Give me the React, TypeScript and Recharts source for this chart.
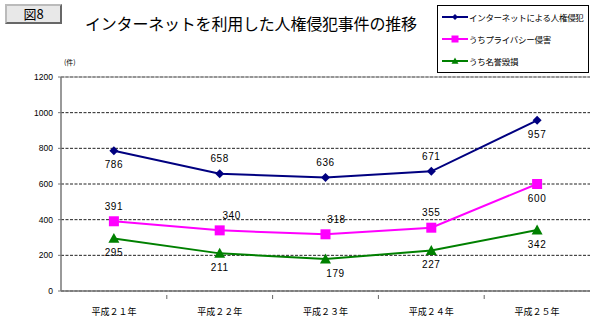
import React from 'react';
import {
  ComposedChart,
  Line,
  XAxis,
  YAxis,
  CartesianGrid,
  LabelList,
  ReferenceLine,
  Legend,
} from 'recharts';

const years = ['平成２１年', '平成２２年', '平成２３年', '平成２４年', '平成２５年'];
const netCases = [786, 658, 636, 671, 957];
const privacyCases = [391, 340, 318, 355, 600];
const defamationCases = [295, 211, 179, 227, 342];
const yTicks = [0, 200, 400, 600, 800, 1000, 1200];

const seriesNames = ['インターネットによる人権侵犯', 'うちプライバシー侵害', 'うち名誉毀損'];

// where each data label sits relative to its point
const labelSide: Record<string, string[]> = {
  net: ['below', 'above', 'above', 'above', 'below'],
  privacy: ['above', 'above', 'above', 'above', 'below'],
  defamation: ['below', 'below', 'below', 'below', 'below'],
};
const labelShift: Record<string, number[]> = {
  net: [0, 0, 0, 0, 0],
  privacy: [0, 12, 11, 0, 0],
  defamation: [0, 0, 10, 0, 0],
};

const data = years.map((year, i) => ({
  year,
  net: netCases[i],
  privacy: privacyCases[i],
  defamation: defamationCases[i],
}));

const W = 600;
const H = 329;
const margin = { top: 77, right: 10, bottom: 8, left: 21 };
const yAxisWidth = 40;
const bandWidth = (W - margin.left - margin.right - yAxisWidth) / years.length;

const NAVY = '#000080';
const PINK = '#ff00ff';
const GREEN = '#008000';

const numFont = '"Liberation Sans", Arial, sans-serif';
const jpFont = '"Noto Sans CJK JP", sans-serif';

const Diamond = ({ cx, cy, color, size = 4.5 }: any) =>
  cx == null ? null : (
    <polygon
      points={`${cx},${cy - size} ${cx + size},${cy} ${cx},${cy + size} ${cx - size},${cy}`}
      fill={color}
    />
  );

const Square = ({ cx, cy, color, size = 5 }: any) =>
  cx == null ? null : <rect x={cx - size} y={cy - size} width={size * 2} height={size * 2} fill={color} />;

const Triangle = ({ cx, cy, color, size = 5.5 }: any) =>
  cx == null ? null : (
    <polygon
      points={`${cx},${cy - size} ${cx + size},${cy + size * 0.8} ${cx - size},${cy + size * 0.8}`}
      fill={color}
    />
  );

const makeLabel = (key: string) => (props: any) => {
  const { x, y, value, index } = props;
  const side = labelSide[key][index];
  const dx = labelShift[key][index] || 0;
  return (
    <text
      x={x + dx}
      y={side === 'above' ? y - 15 : y + 14}
      textAnchor="middle"
      dominantBaseline="central"
      fontSize={10}
      fontFamily={numFont}
      letterSpacing={0.6}
      fill="#000"
    >
      {value}
    </text>
  );
};

const XTick = ({ x, y, payload, index }: any) => (
  <g>
    {index > 0 && (
      <line x1={x - bandWidth / 2} x2={x - bandWidth / 2} y1={y - 4} y2={y} stroke="#666" />
    )}
    <text x={x} y={y + 12} textAnchor="middle" dominantBaseline="central" fontSize={9} fontFamily={jpFont} fill="#000">
      {payload.value}
    </text>
  </g>
);

const legendRows = [
  { name: seriesNames[0], color: NAVY, Mark: Diamond, size: 3 },
  { name: seriesNames[1], color: PINK, Mark: Square, size: 3.5 },
  { name: seriesNames[2], color: GREEN, Mark: Triangle, size: 3.5 },
];

const LegendBox = () => (
  <div
    style={{
      width: 152,
      height: 68,
      border: '1px solid #000',
      background: '#fff',
      boxSizing: 'border-box',
    }}
  >
    {legendRows.map((row) => (
      <div key={row.name} style={{ display: 'flex', alignItems: 'center', height: 22 }}>
        <svg width={28} height={12} style={{ marginLeft: 3, flexShrink: 0 }}>
          <line x1={1} x2={27} y1={6} y2={6} stroke={row.color} strokeWidth={2} />
          <row.Mark cx={14} cy={6} color={row.color} size={row.size} />
        </svg>
        <span
          style={{
            fontSize: 8.5,
            letterSpacing: -0.3,
            fontFamily: jpFont,
            color: '#000',
            whiteSpace: 'nowrap',
          }}
        >
          {row.name}
        </span>
      </div>
    ))}
  </div>
);

export default function App() {
  return (
    <div style={{ position: 'absolute', left: 0, top: 0, width: W, height: H, background: '#fff' }}>
      <div
        style={{
          position: 'absolute',
          left: 5,
          top: 4,
          width: 57,
          height: 20,
          boxSizing: 'border-box',
          border: '2px outset #bbb',
          background: '#e8e8e8',
          fontFamily: jpFont,
          fontSize: 13,
          lineHeight: '16px',
          textAlign: 'center',
          color: '#000',
        }}
      >
        図8
      </div>
      <div
        style={{
          position: 'absolute',
          left: 85,
          top: 13,
          fontFamily: jpFont,
          fontSize: 16,
          lineHeight: '20px',
          letterSpacing: -0.2,
          color: '#000',
          whiteSpace: 'nowrap',
        }}
      >
        インターネットを利用した人権侵犯事件の推移
      </div>
      <div
        style={{
          position: 'absolute',
          left: 64,
          top: 57,
          fontFamily: jpFont,
          fontSize: 7,
          color: '#000',
        }}
      >
        (件)
      </div>
      <ComposedChart width={W} height={H} data={data} margin={margin}>
        <CartesianGrid vertical={false} stroke="#222" strokeDasharray="3 1.5" />
        <XAxis
          dataKey="year"
          scale="band"
          tick={<XTick />}
          tickLine={false}
          axisLine={{ stroke: '#777', strokeWidth: 1.5 }}
          height={30}
          interval={0}
        />
        <YAxis
          domain={[0, 1200]}
          ticks={yTicks}
          width={yAxisWidth}
          tick={{ fontSize: 8.5, fontFamily: numFont, fill: '#000' }}
          tickSize={3}
          tickMargin={5}
          tickLine={{ stroke: '#777' }}
          axisLine={{ stroke: '#777', strokeWidth: 1.5 }}
          interval={0}
        />
        <YAxis
          yAxisId="frame"
          orientation="right"
          domain={[0, 1200]}
          width={0}
          tick={false}
          tickLine={false}
          axisLine={{ stroke: '#aaa' }}
        />
        <ReferenceLine y={1200} stroke="#999" strokeWidth={1} ifOverflow="extendDomain" />
        <Legend
          layout="vertical"
          align="center"
          verticalAlign="middle"
          wrapperStyle={{ position: 'absolute', left: 437, top: 5, width: 152, height: 68 }}
          content={() => <LegendBox />}
        />
        <Line
          dataKey="net"
          name={seriesNames[0]}
          stroke={NAVY}
          strokeWidth={2}
          dot={<Diamond color={NAVY} size={4.5} />}
          activeDot={false}
          isAnimationActive={false}
        >
          <LabelList dataKey="net" content={makeLabel('net')} />
        </Line>
        <Line
          dataKey="privacy"
          name={seriesNames[1]}
          stroke={PINK}
          strokeWidth={2}
          dot={<Square color={PINK} size={5} />}
          activeDot={false}
          isAnimationActive={false}
        >
          <LabelList dataKey="privacy" content={makeLabel('privacy')} />
        </Line>
        <Line
          dataKey="defamation"
          name={seriesNames[2]}
          stroke={GREEN}
          strokeWidth={2}
          dot={<Triangle color={GREEN} size={5.5} />}
          activeDot={false}
          isAnimationActive={false}
        >
          <LabelList dataKey="defamation" content={makeLabel('defamation')} />
        </Line>
      </ComposedChart>
    </div>
  );
}
